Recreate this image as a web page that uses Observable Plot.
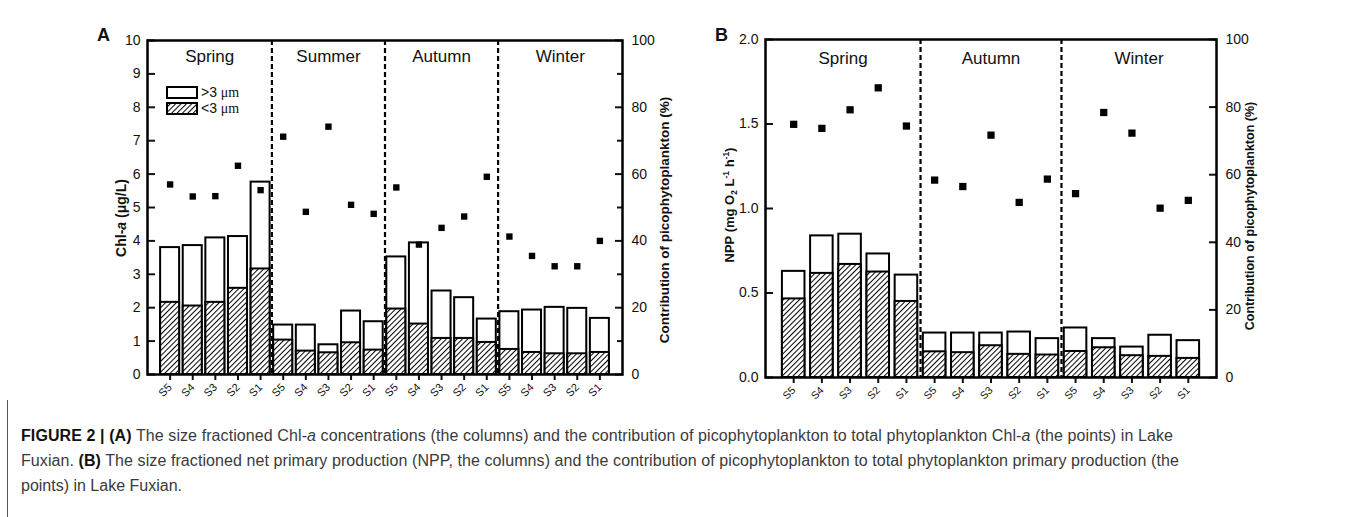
<!DOCTYPE html>
<html><head><meta charset="utf-8">
<script src="https://cdn.jsdelivr.net/npm/d3@7"></script>
<script src="https://cdn.jsdelivr.net/npm/@observablehq/plot@0.6"></script>
<style>
body{margin:0;background:#fff;width:1355px;height:517px;position:relative;overflow:hidden;font-family:Arial,"Liberation Sans",sans-serif;}
.abs{position:absolute;}
.ttl{position:absolute;white-space:nowrap;font-weight:bold;color:#111;transform:translate(-50%,-50%) rotate(-90deg);}
.ttl sub,.ttl sup{font-size:65%;}
.lg{position:absolute;display:flex;align-items:center;font-size:14px;color:#111;}
.lg svg{margin-right:3px;}
.mu{font-family:"Liberation Serif","DejaVu Serif",serif;}
#cap div{white-space:nowrap;}
</style></head><body>
<div id="A" class="abs" style="left:0;top:0"></div>
<div id="B" class="abs" style="left:690px;top:0"></div>

<div class="abs" style="left:97px;top:25px;font-weight:bold;font-size:18px;color:#111">A</div>
<div class="abs" style="left:715px;top:25px;font-weight:bold;font-size:18px;color:#111">B</div>

<div class="ttl" style="left:121px;top:218px;font-size:14px">Chl-<i>a</i> (μg/L)</div>
<div class="ttl" style="left:664px;top:220px;font-size:13.5px">Contribution of picophytoplankton (%)</div>
<div class="ttl" style="left:730px;top:205px;font-size:13px">NPP (mg O<sub>2</sub> L<sup>-1</sup> h<sup>-1</sup>)</div>
<div class="ttl" style="left:1250px;top:216px;font-size:12.5px">Contribution of picophytoplankton (%)</div>

<div class="lg" style="left:166px;top:84px"><svg width="32" height="13"><rect x="1" y="1" width="30" height="11" fill="white" stroke="black" stroke-width="2"/></svg><span>&gt;3 <span class="mu">μm</span></span></div>
<div class="lg" style="left:166px;top:100px"><svg width="32" height="13"><defs><pattern id="hatchL" patternUnits="userSpaceOnUse" width="3.8" height="3.8" patternTransform="rotate(45)"><rect width="3.8" height="3.8" fill="white"/><line x1="0.5" y1="0" x2="0.5" y2="3.8" stroke="black" stroke-width="1"/></pattern></defs><rect x="1" y="1" width="30" height="11" fill="url(#hatchL)" stroke="black" stroke-width="2"/></svg><span>&lt;3 <span class="mu">μm</span></span></div>

<div class="abs" style="left:7px;top:400px;width:1px;height:117px;background:#555"></div>
<div id="cap" class="abs" style="left:21px;top:423px;font:16px/25px 'Liberation Sans',Arial,sans-serif;color:#3a3a3a">
<div data-w="1152"><b style="color:#111">FIGURE 2 | (A)</b> The size fractioned Chl-<i>a</i> concentrations (the columns) and the contribution of picophytoplankton to total phytoplankton Chl-<i>a</i> (the points) in Lake</div>
<div data-w="1158">Fuxian. <b style="color:#111">(B)</b> The size fractioned net primary production (NPP, the columns) and the contribution of picophytoplankton to total phytoplankton primary production (the</div>
<div>points) in Lake Fuxian.</div>
</div>

<script>
// ---------- data ----------
const stations = ["S5", "S4", "S3", "S2", "S1"];
const seasonsA = ["Spring", "Summer", "Autumn", "Winter"];
const seasonsB = ["Spring", "Autumn", "Winter"];

// Panel A: Chl-a (µg/L), total (>3 µm + <3 µm) and <3 µm fraction; contribution (%)
const chlTotal = [3.80, 3.86, 4.09, 4.13, 5.76, 1.48, 1.48, 0.89, 1.90, 1.58, 3.52, 3.94, 2.50, 2.30, 1.66, 1.88, 1.93, 2.01, 1.98, 1.68];
const chlPico  = [2.16, 2.05, 2.16, 2.58, 3.16, 1.03, 0.70, 0.65, 0.95, 0.73, 1.96, 1.51, 1.08, 1.08, 0.96, 0.75, 0.66, 0.62, 0.62, 0.66];
const chlPct   = [56.9, 53.3, 53.4, 62.5, 55.2, 71.2, 48.7, 74.2, 50.8, 48.1, 56.0, 38.9, 43.9, 47.3, 59.2, 41.3, 35.5, 32.4, 32.4, 40.0];

// Panel B: NPP (mg O2 L-1 h-1); contribution (%)
const nppTotal = [0.628, 0.838, 0.848, 0.731, 0.606, 0.263, 0.263, 0.263, 0.269, 0.230, 0.293, 0.230, 0.180, 0.250, 0.218];
const nppPico  = [0.465, 0.616, 0.669, 0.624, 0.450, 0.152, 0.147, 0.188, 0.137, 0.133, 0.154, 0.176, 0.129, 0.125, 0.113];
const nppPct   = [74.9, 73.7, 79.2, 85.7, 74.4, 58.4, 56.5, 71.7, 51.8, 58.7, 54.4, 78.4, 72.3, 50.1, 52.4];

const leftTicksA = [0, 1, 2, 3, 4, 5, 6, 7, 8, 9, 10];
const leftTicksB = [0, 0.5, 1.0, 1.5, 2.0];
const pctTicks = [0, 20, 40, 60, 80, 100];
const pctMinorA = [10, 30, 50, 70, 90];

// ---------- drawing ----------
const ns = "http://www.w3.org/2000/svg";
function hatchDefs(id) {
  return () => {
    const d = document.createElementNS(ns, "defs");
    d.innerHTML = `<pattern id="${id}" patternUnits="userSpaceOnUse" width="3.8" height="3.8" patternTransform="rotate(45)"><rect width="3.8" height="3.8" fill="white"/><line x1="0.5" y1="0" x2="0.5" y2="3.8" stroke="black" stroke-width="1"/></pattern>`;
    return d;
  };
}

function makePanel(o) {
  const n = o.total.length;
  const rows = o.total.map((t, i) => ({i, station: stations[i % 5], total: t, pico: o.pico[i], pct: o.pct[i]}));
  const seps = d3.range(1, o.seasons.length).map(k => k * 5 - 0.5);
  const bounds = [o.xDomain[0], ...seps, o.xDomain[1]];
  const labels = o.seasons.map((s, k) => ({name: s, x: (bounds[k] + bounds[k + 1]) / 2}));
  const toLeft = p => p * o.yMax / 100;
  return Plot.plot({
    width: o.width, height: o.height,
    marginLeft: o.ml, marginRight: o.mr, marginTop: o.mt, marginBottom: o.mb,
    x: {type: "linear", domain: o.xDomain},
    y: {domain: [0, o.yMax]},
    style: {fontFamily: "Arial, 'Liberation Sans', sans-serif", fontSize: "14px", color: "#111", background: "white", overflow: "visible"},
    marks: [
      hatchDefs(o.pid),
      Plot.rectY(rows, {x1: d => d.i - o.half, x2: d => d.i + o.half, y1: 0, y2: "total", fill: "white", stroke: "black", strokeWidth: 2}),
      Plot.rectY(rows, {x1: d => d.i - o.half, x2: d => d.i + o.half, y1: 0, y2: "pico", fill: `url(#${o.pid})`, stroke: "black", strokeWidth: 2}),
      Plot.ruleX(seps, {stroke: "black", strokeWidth: 2.2, strokeDasharray: "5,3"}),
      Plot.dot(rows, {x: "i", y: d => toLeft(d.pct), symbol: "square", r: o.r, fill: "black", stroke: "none"}),
      Plot.text(labels, {x: "x", text: "name", frameAnchor: "top", lineAnchor: "middle", dy: o.seasonDy, fontSize: 17, fill: "#111"}),
      Plot.axisY({anchor: "left", ticks: o.leftTicks, tickFormat: o.leftFmt, tickSize: 0, tickPadding: 7, fontSize: o.yFont}),
      Plot.axisY({anchor: "left", ticks: o.leftTicks, tickSize: 8, text: null, dx: 8, strokeWidth: 2}),
      Plot.axisY({anchor: "right", ticks: pctTicks.map(toLeft), tickFormat: d => Math.round(d * 100 / o.yMax), tickSize: 0, tickPadding: 9, fontSize: o.yFont}),
      Plot.axisY({anchor: "right", ticks: pctTicks.map(toLeft), tickSize: 8, text: null, dx: -8, strokeWidth: 2}),
      o.pctMinor ? Plot.axisY({anchor: "right", ticks: o.pctMinor.map(toLeft), tickSize: 6, text: null, dx: -6, strokeWidth: 2}) : null,
      Plot.axisX({ticks: d3.range(n), tickFormat: i => stations[i % 5], tickRotate: -45, tickSize: 6, tickPadding: 5, fontSize: o.xFont, strokeWidth: 2}),
      Plot.frame({stroke: "black", strokeWidth: 2.5})
    ]
  });
}

document.getElementById("A").append(makePanel({
  total: chlTotal, pico: chlPico, pct: chlPct, seasons: seasonsA,
  width: 690, height: 400, ml: 147, mr: 68, mt: 40, mb: 26,
  xDomain: [-1, 20], yMax: 10, leftTicks: leftTicksA, leftFmt: d3.format("d"),
  pctMinor: pctMinorA, half: 0.42, r: 3.6, pid: "hatchA", xFont: 11, yFont: 14, seasonDy: 16
}));

document.getElementById("B").append(makePanel({
  total: nppTotal, pico: nppPico, pct: nppPct, seasons: seasonsB,
  width: 665, height: 400, ml: 75, mr: 139, mt: 39, mb: 23,
  xDomain: [-1, 15], yMax: 2, leftTicks: leftTicksB, leftFmt: d3.format(".1f"),
  pctMinor: null, half: 0.40, r: 4.1, pid: "hatchB", xFont: 10.5, yFont: 14, seasonDy: 19
}));

// fit caption lines to the measured widths of the reference lines
document.querySelectorAll("#cap div[data-w]").forEach(el => {
  el.style.display = "inline-block";
  const w = el.getBoundingClientRect().width;
  const target = +el.dataset.w;
  const chars = el.textContent.trim().length;
  el.style.letterSpacing = ((target - w) / chars) + "px";
  el.style.display = "block";
});
</script>
</body></html>
